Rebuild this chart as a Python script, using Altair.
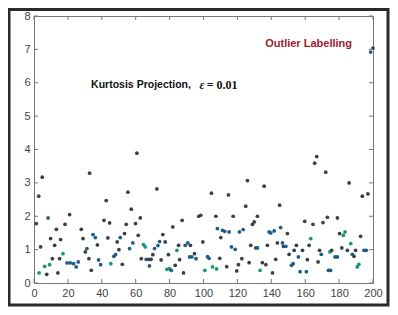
import altair as alt
import pandas as pd

# ---- data ----
x_idx = [4.9, 2.8, 1.4, 8.3, 3.9, 3.0, 6.3, 7.5, 9.2, 9.8, 10.8, 13.2, 12.2, 14.1, 15.1, 15.7, 17.1, 18.3, 21.0,
         19.5, 21.4, 23.4, 24.9, 26.1, 27.9, 28.9, 31.2, 30.3, 32.4, 32.8, 33.8, 34.8, 36.2, 37.4, 38.1, 39.3,
         41.3, 42.6, 43.6, 44.6, 45.3, 47.1, 48.1, 49.1, 50.1, 50.9, 52.1, 53.4, 54.4, 55.4, 56.4, 57.4, 58.3,
         59.9, 60.7, 61.5, 62.7, 63.3, 64.6, 65.6, 66.2, 67.8, 68.1, 69.1, 70.1, 71.1, 72.5, 73.1, 74.1, 75.0,
         76.0, 77.4, 78.4, 79.3, 79.9, 81.0, 81.9, 83.3, 84.3, 85.3, 85.9, 87.4, 88.2, 89.2, 90.7, 91.8, 92.3,
         93.1, 94.7, 95.6, 97.2,
         98.4, 99.6, 100.8, 102.4, 103.3, 104.7, 105.3, 107.3, 107.7, 108.2, 109.6, 110.2, 111.2, 112.5, 113.7,
         114.7, 115.1, 116.5, 117.5, 118.7, 119.6, 120.6, 121.2, 122.6, 123.4, 124.9, 125.9, 126.9, 127.9,
         128.9, 129.9, 130.8, 131.8, 131.8, 133.4, 134.7, 135.8, 136.8, 137.7, 138.7, 139.7, 140.7, 141.7,
         142.6, 143.6, 144.9, 145.5, 146.6, 147.2, 148.6, 149.5, 150.5, 151.9, 152.9, 153.5, 154.8, 156.0,
         157.0, 158.4, 159.7, 160.7, 161.3, 162.3, 163.3, 164.6, 165.6, 166.8, 167.6, 168.5, 169.5, 170.5,
         172.1, 173.1, 173.7, 175.0, 174.6, 175.6, 177.6, 179.0, 179.0, 180.3, 181.6, 182.5, 183.5, 184.9,
         185.9, 186.9, 187.8, 188.8, 189.7, 190.7, 191.7, 192.7, 193.7, 194.7, 196.0, 197.0, 198.6, 200.0]

kurtosis = [3.17, 2.60, 1.78, 1.95, 1.08, 0.30, 0.50, 0.26, 0.55, 1.33, 0.73, 1.61, 1.13, 0.30, 0.73, 1.30, 0.88, 1.76, 2.05,
            0.60, 0.60, 0.58, 0.48, 0.63, 1.61, 1.33, 1.03, 0.93, 0.73, 3.29, 0.38, 1.45, 1.36, 1.14, 0.69, 0.55,
            1.88, 2.47, 1.35, 1.80, 0.58, 0.80, 0.85, 1.23, 1.00, 1.36, 0.56, 1.48, 1.76, 2.72, 1.03, 2.21, 1.20,
            1.78, 3.89, 1.43, 1.95, 0.73, 1.15, 1.08, 0.71, 0.71, 0.51, 0.71, 0.85, 1.03, 2.82, 1.12, 1.24, 0.69,
            1.45, 1.23, 0.41, 0.85, 0.43, 0.38, 1.68, 0.53, 0.98, 1.13, 0.70, 1.88, 0.30, 1.13, 1.20, 0.78, 1.13,
            0.78, 0.88, 0.73, 2.00,
            2.03, 1.23, 0.38, 0.79, 0.74, 2.69, 0.48, 2.00, 0.42, 1.63, 0.74, 1.36, 1.58, 1.55, 0.49,
            2.64, 1.53, 1.08, 2.00, 1.01, 0.36, 0.55, 1.53, 0.73, 1.60, 2.30, 3.07, 0.61, 1.13,
            1.76, 1.83, 1.05, 1.05, 2.00, 0.38, 0.61, 2.90, 0.55, 1.13, 1.53, 1.50, 0.30, 1.56,
            0.71, 1.20, 2.33, 1.66, 1.20, 1.10, 1.10, 1.48, 0.86, 0.53, 0.58, 0.98, 1.13, 0.78,
            0.34, 0.98, 1.85, 0.34, 0.70, 1.13, 1.33, 1.76, 3.59, 3.79, 0.63, 0.98, 0.86, 1.81,
            3.32, 1.97, 0.38, 0.38, 0.93, 0.98, 0.78, 0.78, 1.95, 1.48, 1.05, 1.43, 1.53, 0.98,
            3.00, 1.18, 0.86, 0.80, 0.98, 0.48, 0.56, 1.40, 2.60, 0.98, 0.98, 2.67, 6.92, 7.04]

shade = ["d", "d", "d", "b", "d", "g", "g", "d", "g", "d", "d", "d", "d", "d", "d", "d", "g", "d", "d",
         "b", "b", "b", "b", "b", "d", "d", "b", "d", "d", "d", "d", "b", "b", "d", "b", "b",
         "d", "d", "d", "d", "g", "b", "b", "d", "d", "b", "d", "d", "d", "d", "b", "d", "b",
         "d", "d", "d", "d", "d", "g", "g", "b", "d", "b", "d", "d", "b", "d", "b", "b", "d",
         "d", "d", "g", "d", "g", "b", "d", "d", "g", "d", "d", "d", "d", "b", "b", "b", "d",
         "b", "d", "b", "d",
         "d", "d", "g", "b", "b", "d", "g", "d", "g", "b", "d", "d", "b", "b", "d",
         "d", "b", "b", "d", "b", "d", "d", "b", "d", "b", "d", "d", "d", "d",
         "d", "d", "b", "b", "d", "g", "d", "d", "d", "d", "b", "b", "d", "b",
         "d", "d", "d", "b", "b", "d", "b", "d", "d", "b", "b", "d", "d", "b",
         "b", "d", "d", "b", "d", "d", "g", "d", "d", "d", "d", "d", "b", "d",
         "d", "d", "b", "b", "g", "d", "b", "b", "d", "d", "d", "g", "g", "d",
         "d", "g", "b", "d", "d", "g", "g", "d", "d", "b", "b", "d", "b", "d"]

x_ticks = [0, 20, 40, 60, 80, 100, 120, 140, 160, 180, 200]
y_ticks = [0, 1, 2, 3, 4, 5, 6, 7, 8]

title_text = ["Kurtosis Projection,"]
title_pos = [[33.7, 5.92]]
eps_text = ["ε"]
eps_pos = [[97.6, 5.92]]
eps_val_text = ["= 0.01"]
eps_val_pos = [[101.9, 5.92]]
outlier_text = ["Outlier Labelling"]
outlier_pos = [[136.4, 7.15]]

# ---- chart ----
W, H = 339, 267
xs = alt.Scale(domain=[0, 200], nice=False, zero=False)
ys = alt.Scale(domain=[0, 8], nice=False, zero=False)

df = pd.DataFrame({"x": x_idx, "y": kurtosis, "g": shade})
xt = pd.DataFrame({"t": x_ticks})
yt = pd.DataFrame({"t": y_ticks})

axis_common = dict(title=None, grid=False, domain=False, ticks=False, labelFontSize=11,
                   labelColor="#444444", labelFont="Liberation Sans", labelPadding=4)
x_axis = alt.Axis(values=x_ticks, labelFlush=False, **axis_common)
y_axis = alt.Axis(values=y_ticks, **axis_common)

points = alt.Chart(df).mark_circle(size=14, opacity=1).encode(
    x=alt.X("x:Q", scale=xs, axis=x_axis),
    y=alt.Y("y:Q", scale=ys, axis=y_axis),
    color=alt.Color("g:N", scale=alt.Scale(domain=["d", "b", "g"],
                                           range=["#3b4045", "#1d5b88", "#18967a"]), legend=None),
)

tick_color = "#777777"
xb = alt.Chart(xt).mark_rule(color=tick_color, strokeWidth=1).encode(
    x=alt.X("t:Q", scale=xs, axis=x_axis), y=alt.value(H), y2=alt.value(H - 4))
xtop = alt.Chart(xt).mark_rule(color=tick_color, strokeWidth=1).encode(
    x=alt.X("t:Q", scale=xs, axis=x_axis), y=alt.value(0), y2=alt.value(4))
yl = alt.Chart(yt).mark_rule(color=tick_color, strokeWidth=1).encode(
    y=alt.Y("t:Q", scale=ys, axis=y_axis), x=alt.value(0), x2=alt.value(4))
yr = alt.Chart(yt).mark_rule(color=tick_color, strokeWidth=1).encode(
    y=alt.Y("t:Q", scale=ys, axis=y_axis), x=alt.value(W), x2=alt.value(W - 4))


def label(texts, pos, **kw):
    d = pd.DataFrame({"text": texts, "x": [p[0] for p in pos], "y": [p[1] for p in pos]})
    return alt.Chart(d).mark_text(align="left", baseline="middle", **kw).encode(
        x=alt.X("x:Q", scale=xs, axis=x_axis), y=alt.Y("y:Q", scale=ys, axis=y_axis), text="text:N")


t1 = label(title_text, title_pos, font="Liberation Sans", fontSize=10.5, fontWeight="bold", color="#111111")
t2 = label(eps_text, eps_pos, font="Liberation Serif", fontSize=12, fontWeight="bold", fontStyle="italic", color="#111111")
t3 = label(eps_val_text, eps_val_pos, font="Liberation Serif", fontSize=12, fontWeight="bold", color="#111111")
t4 = label(outlier_text, outlier_pos, font="Liberation Sans", fontSize=11, fontWeight="bold", color="#9e1c2e")

frame = alt.Chart(pd.DataFrame({"a": [0]})).mark_rect(filled=False, stroke="#2a2a2a", strokeWidth=3).encode(
    x=alt.value(-25), x2=alt.value(354), y=alt.value(-6.5), y2=alt.value(289))

chart = alt.layer(frame, points, xb, xtop, yl, yr, t1, t2, t3, t4).properties(
    width=W, height=H,
    autosize=alt.AutoSizeParams(type="none"),
    padding={"left": 26, "top": 8, "right": 17, "bottom": 24},
    background="white",
).configure_view(stroke="#777777", strokeWidth=1)

chart.save("out.html", embed_options={"renderer": "svg", "actions": False})
